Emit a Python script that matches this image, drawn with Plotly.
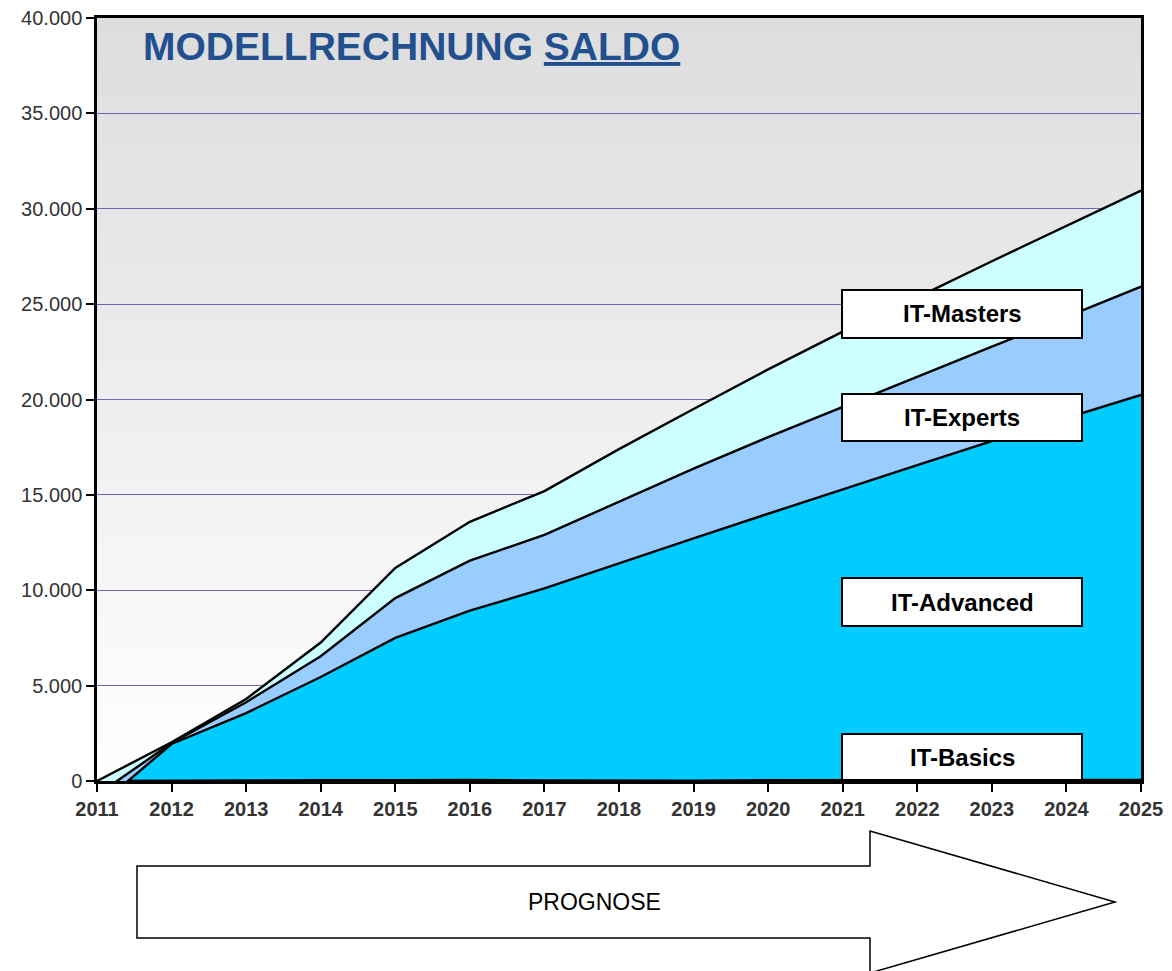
import plotly.graph_objects as go

# ---- data ----
years = [2011, 2012, 2013, 2014, 2015, 2016, 2017, 2018, 2019, 2020, 2021, 2022, 2023, 2024, 2025]
it_basics = [0, 20, 30, 40, 40, 60, 30, 20, 20, 40, 40, 50, 50, 60, 60]
it_advanced = [-1380, 1920, 3530, 5410, 7460, 8870, 10070, 11410, 12700, 13970, 15260, 16510, 17770, 18970, 20180]
it_experts = [650, 50, 570, 1090, 2090, 2620, 2800, 3210, 3660, 4020, 4320, 4640, 4950, 5300, 5680]
it_masters = [730, 40, 170, 720, 1580, 2040, 2300, 2760, 3120, 3550, 3940, 4150, 4480, 4760, 5030]
y_ticks = [0, 5000, 10000, 15000, 20000, 25000, 30000, 35000, 40000]
series_names = ["IT-Basics", "IT-Advanced", "IT-Experts", "IT-Masters"]
series_colors = ["#00CCFF", "#00CCFF", "#99CCFF", "#CCFFFF"]

# page has 8px body margin -> figure coordinates = screen - 8
OFF = 8
W, H = 1172 - OFF, 971 - OFF
L, R, T, B = 97 - OFF, 1141 - OFF, 18 - OFF, 781 - OFF  # plot area in figure pixels


def px(x):  # screen x -> paper
    return (x - OFF - L) / (R - L)


def py(y):  # screen y -> paper
    return (B - (y - OFF)) / (B - T)


fig = go.Figure()
for name, vals, col in zip(series_names, [it_basics, it_advanced, it_experts, it_masters], series_colors):
    fig.add_trace(go.Scatter(
        x=years, y=vals, name=name, mode="lines", stackgroup="one",
        line=dict(color="black", width=2.4), fillcolor=col, showlegend=False,
    ))

shapes = []
# gradient background (grey at top -> white at bottom)
N = 60
for i in range(N):
    f = (i + 0.5) / N
    c = int(round(255 - (255 - 221) * f))
    shapes.append(dict(type="rect", xref="paper", yref="paper", x0=0, x1=1,
                       y0=i / N, y1=(i + 1) / N + 0.002, line=dict(width=0),
                       fillcolor=f"rgb({c},{c},{c})", layer="below"))

# label boxes (screen pixel positions)
boxes = [("IT-Masters", 290, 338), ("IT-Experts", 394, 441), ("IT-Advanced", 578, 626), ("IT-Basics", 734, 780)]
annotations = []
for text, y0, y1 in boxes:
    shapes.append(dict(type="rect", xref="paper", yref="paper", x0=px(842), x1=px(1082),
                       y0=py(y1), y1=py(y0), line=dict(color="black", width=2),
                       fillcolor="white", layer="above"))
    annotations.append(dict(text=f"<b>{text}</b>", xref="paper", yref="paper",
                            x=px(962), y=py((y0 + y1) / 2), showarrow=False,
                            xanchor="center", yanchor="middle",
                            font=dict(family="Liberation Sans, Arial", size=24, color="black")))

# PROGNOSE arrow
pts = [(137, 866), (870, 866), (870, 831), (1115, 902), (870, 973), (870, 938), (137, 938)]
path = "M " + " L ".join(f"{px(a):.5f},{py(b):.5f}" for a, b in pts) + " Z"
shapes.append(dict(type="path", xref="paper", yref="paper", path=path,
                   line=dict(color="black", width=1.5), fillcolor="white", layer="above"))
annotations.append(dict(text="PROGNOSE", xref="paper", yref="paper", x=px(594), y=py(902),
                        showarrow=False, xanchor="center", yanchor="middle",
                        font=dict(family="Liberation Sans, Arial", size=23, color="black")))

# title
annotations.append(dict(text="<b>MODELLRECHNUNG <u>SALDO</u></b>", xref="paper", yref="paper",
                        x=px(141), y=py(46), showarrow=False, xanchor="left", yanchor="middle",
                        font=dict(family="Liberation Sans, Arial", size=39, color="#22508E")))

fig.update_layout(
    width=W, height=H,
    margin=dict(l=L, r=W - R, t=T, b=H - B, pad=0, autoexpand=False),
    paper_bgcolor="white", plot_bgcolor="white",
    separators=",.",
    shapes=shapes, annotations=annotations,
    showlegend=False,
    xaxis=dict(range=[2011, 2025], tickvals=years, ticktext=[str(y) for y in years],
               showgrid=False, zeroline=False, showline=True, linecolor="black", linewidth=2.5,
               mirror=True, ticks="outside", ticklen=8, tickwidth=2, tickcolor="black",
               automargin=False, ticklabeloverflow="allow",
               tickfont=dict(family="Liberation Sans, Arial", size=20, color="#333333", weight="bold")),
    yaxis=dict(range=[0, 40000], tickvals=y_ticks, tickformat=",d",
               showgrid=True, gridcolor="#6a6ab2", gridwidth=1, zeroline=False,
               showline=True, linecolor="black", linewidth=2.5, mirror=True,
               ticks="outside", ticklen=8, tickwidth=2, tickcolor="black",
               automargin=False, ticklabeloverflow="allow",
               tickfont=dict(family="Liberation Sans, Arial", size=20, color="#333333")),
)

fig.write_html("out.html")
